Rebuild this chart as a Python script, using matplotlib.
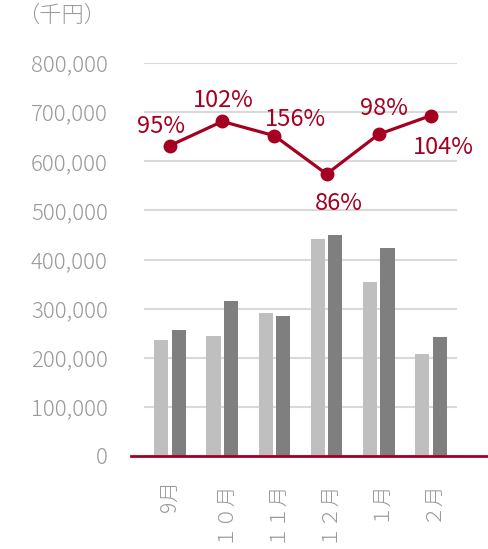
import matplotlib
matplotlib.use("Agg")
import matplotlib.pyplot as plt
from matplotlib.ticker import FuncFormatter

plt.rcParams['font.family'] = ['Noto Sans CJK JP', 'DejaVu Sans']
plt.rcParams['font.weight'] = 'light'

months = ["9月", "１０月", "１１月", "１２月", "１月", "２月"]
prev_year = [236000, 244000, 292000, 441000, 354000, 208000]
this_year = [256000, 315000, 284000, 449000, 423000, 242000]
line_vals = [632000, 681000, 652000, 574000, 655000, 693000]
pct_labels = ["95%", "102%", "156%", "86%", "98%", "104%"]
# label offsets in pixels (dx, dy), dy positive = up
label_offsets = [(-9, 19), (1, 21), (21, 16), (12, -29), (5, 26), (12, -32)]

gray_txt = "#9A9A9A"
red = "#A50021"

fig = plt.figure(figsize=(4.88, 5.49), dpi=100)
ax = fig.add_axes([144/488, 1 - 456/549, (457 - 144)/488, (456 - 63)/549])

x = list(range(len(months)))
w = 0.27
off = 0.167
ax.bar([i - off for i in x], prev_year, width=w, color="#BFBFBF", zorder=2)
ax.bar([i + off for i in x], this_year, width=w, color="#7F7F7F", zorder=2)

ax.plot(x, line_vals, color=red, lw=2.3, marker="o", markersize=9, zorder=4)
for i, (v, lab) in enumerate(zip(line_vals, pct_labels)):
    dx, dy = label_offsets[i]
    ax.annotate(lab, (i, v), xytext=(dx, dy), textcoords="offset pixels",
                ha="center", va="center", color=red, fontsize=17,
                fontweight="normal")

ax.set_xlim(-0.5, 5.5)
ax.set_ylim(0, 800000)
ax.set_yticks(range(0, 800001, 100000))
ax.yaxis.set_major_formatter(FuncFormatter(lambda v, p: f"{int(v):,}"))
ax.grid(axis="y", color="#D9D9D9", lw=1.5, zorder=0)
ax.set_axisbelow(True)
for s in ax.spines.values():
    s.set_visible(False)
ax.axhline(0, xmin=-0.04, xmax=1.1, color=red, lw=2, clip_on=False, zorder=5)

ax.set_xticks(x)
ax.set_xticklabels(months, rotation=90, ha="center", va="top")
ax.tick_params(axis="x", length=0, pad=17, labelsize=15, colors=gray_txt)
ax.tick_params(axis="y", length=0, pad=26, labelsize=16, colors=gray_txt)

fig.text(62/488, 1 - 17/549, "（千円）", ha="center", va="center",
         color=gray_txt, fontsize=16)

fig.savefig("out.png", dpi=100)
